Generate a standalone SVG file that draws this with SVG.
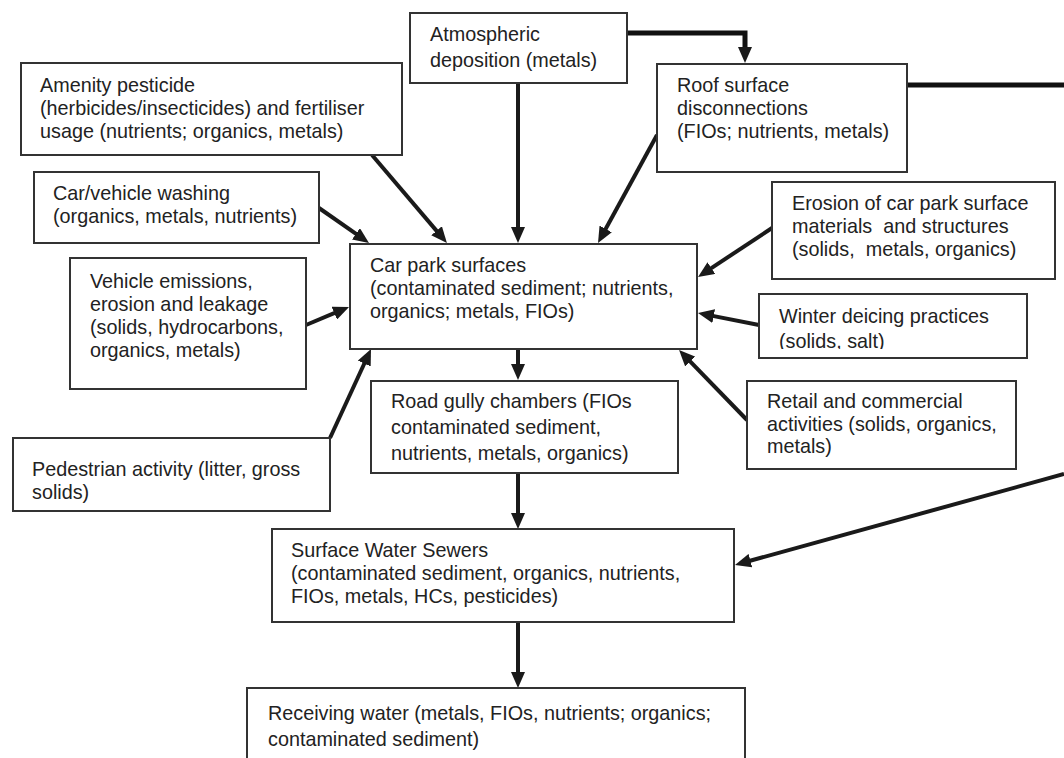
<svg xmlns="http://www.w3.org/2000/svg" width="1064" height="758" viewBox="0 0 1064 758">
<style>
  .box { fill: #ffffff; stroke: #333333; stroke-width: 2; }
  .t { font-family: "Liberation Sans", Arial, sans-serif; font-size: 19.8px; fill: #222222; }
  .c { fill: none; stroke: #1a1a1a; stroke-width: 4; }
  .thick { fill: none; stroke: #111111; stroke-width: 5; }
</style>
<defs>
  <marker id="ah" markerUnits="userSpaceOnUse" markerWidth="16" markerHeight="14" refX="5" refY="7" orient="auto" viewBox="0 0 16 14">
    <path d="M0,0 L16,7 L0,14 z" fill="#1a1a1a"/>
  </marker>
  <clipPath id="winterClip"><rect x="759" y="294" width="268" height="55"/></clipPath>
</defs>
<rect width="1064" height="758" fill="#ffffff"/>

<g id="connectors">
  <line class="c" x1="518" y1="83" x2="518" y2="232" marker-end="url(#ah)"/>
  <path class="thick" d="M627,33 H745 V52" marker-end="url(#ah)"/>
  <path class="thick" d="M907,85 H1064"/>
  <line class="c" x1="1064" y1="474" x2="745.6" y2="562" marker-end="url(#ah)"/>
  <line class="c" x1="372" y1="155" x2="439.8" y2="234.6" marker-end="url(#ah)"/>
  <line class="c" x1="319" y1="208" x2="360" y2="236.7" marker-end="url(#ah)"/>
  <line class="c" x1="306" y1="325" x2="338.9" y2="311.2" marker-end="url(#ah)"/>
  <line class="c" x1="330" y1="438" x2="366.4" y2="359" marker-end="url(#ah)"/>
  <line class="c" x1="657" y1="135" x2="603.3" y2="233.3" marker-end="url(#ah)"/>
  <line class="c" x1="772" y1="228" x2="707.2" y2="270.9" marker-end="url(#ah)"/>
  <line class="c" x1="759" y1="325" x2="708.8" y2="315.1" marker-end="url(#ah)"/>
  <line class="c" x1="747" y1="420" x2="686.7" y2="357.9" marker-end="url(#ah)"/>
  <line class="c" x1="518" y1="349" x2="518" y2="369" marker-end="url(#ah)"/>
  <line class="c" x1="518" y1="473" x2="518" y2="518" marker-end="url(#ah)"/>
  <line class="c" x1="518" y1="622" x2="518" y2="677" marker-end="url(#ah)"/>
</g>

<g id="atmospheric">
  <rect class="box" x="410" y="13" width="217" height="70"/>
  <text class="t"><tspan x="430" y="41">Atmospheric</tspan><tspan x="430" y="67">deposition (metals)</tspan></text>
</g>

<g id="amenity">
  <rect class="box" x="21" y="63" width="381" height="92"/>
  <text class="t"><tspan x="40" y="92">Amenity pesticide</tspan><tspan x="40" y="115">(herbicides/insecticides) and fertiliser</tspan><tspan x="40" y="138">usage (nutrients; organics, metals)</tspan></text>
</g>

<g id="roof">
  <rect class="box" x="657" y="64" width="250" height="108"/>
  <text class="t"><tspan x="677" y="92">Roof surface</tspan><tspan x="677" y="115">disconnections</tspan><tspan x="677" y="138">(FIOs; nutrients, metals)</tspan></text>
</g>

<g id="carwash">
  <rect class="box" x="34" y="172" width="285" height="71"/>
  <text class="t"><tspan x="53" y="200">Car/vehicle washing</tspan><tspan x="53" y="223">(organics, metals, nutrients)</tspan></text>
</g>

<g id="vehicle">
  <rect class="box" x="70" y="258" width="236" height="131"/>
  <text class="t"><tspan x="90" y="288">Vehicle emissions,</tspan><tspan x="90" y="311">erosion and leakage</tspan><tspan x="90" y="334">(solids, hydrocarbons,</tspan><tspan x="90" y="357">organics, metals)</tspan></text>
</g>

<g id="pedestrian">
  <rect class="box" x="13" y="438" width="317" height="73"/>
  <text class="t"><tspan x="32" y="476">Pedestrian activity (litter, gross</tspan><tspan x="32" y="499">solids)</tspan></text>
</g>

<g id="carpark">
  <rect class="box" x="350" y="244" width="347" height="105"/>
  <text class="t"><tspan x="370" y="272">Car park surfaces</tspan><tspan x="370" y="295">(contaminated sediment; nutrients,</tspan><tspan x="370" y="318">organics; metals, FIOs)</tspan></text>
</g>

<g id="erosion">
  <rect class="box" x="772" y="182" width="283" height="97"/>
  <text class="t"><tspan x="792" y="210">Erosion of car park surface</tspan><tspan x="792" y="233" style="white-space:pre">materials  and structures</tspan><tspan x="792" y="256" style="white-space:pre">(solids,  metals, organics)</tspan></text>
</g>

<g id="winter">
  <rect class="box" x="759" y="294" width="268" height="64"/>
  <text class="t" clip-path="url(#winterClip)"><tspan x="779" y="323">Winter deicing practices</tspan><tspan x="779" y="348">(solids, salt)</tspan></text>
</g>

<g id="roadgully">
  <rect class="box" x="371" y="381" width="307" height="92"/>
  <text class="t"><tspan x="391" y="408">Road gully chambers (FIOs</tspan><tspan x="391" y="434">contaminated sediment,</tspan><tspan x="391" y="460">nutrients, metals, organics)</tspan></text>
</g>

<g id="retail">
  <rect class="box" x="747" y="381" width="269" height="88"/>
  <text class="t"><tspan x="767" y="408">Retail and commercial</tspan><tspan x="767" y="431">activities (solids, organics,</tspan><tspan x="767" y="453">metals)</tspan></text>
</g>

<g id="sewers">
  <rect class="box" x="272" y="529" width="462" height="93"/>
  <text class="t"><tspan x="291" y="557">Surface Water Sewers</tspan><tspan x="291" y="580">(contaminated sediment, organics, nutrients,</tspan><tspan x="291" y="603">FIOs, metals, HCs, pesticides)</tspan></text>
</g>

<g id="receiving">
  <rect class="box" x="247" y="688" width="498" height="90"/>
  <text class="t"><tspan x="268" y="720">Receiving water (metals, FIOs, nutrients; organics;</tspan><tspan x="268" y="746">contaminated sediment)</tspan></text>
</g>
</svg>
